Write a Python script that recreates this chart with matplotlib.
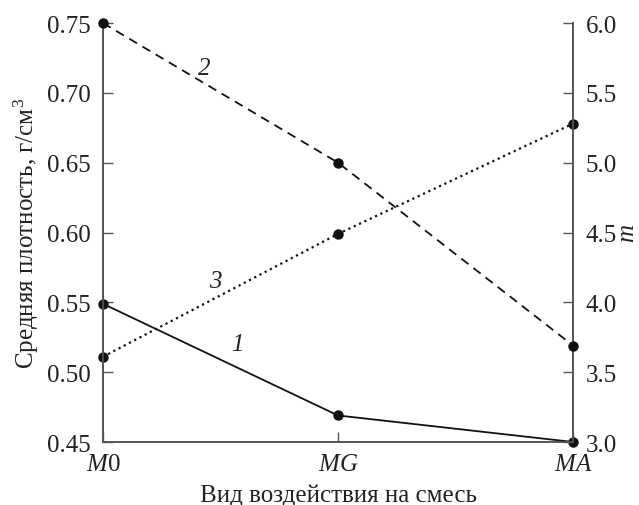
import matplotlib.pyplot as plt
from matplotlib.ticker import FormatStrFormatter

plt.rcParams['font.family'] = ['Liberation Serif', 'DejaVu Serif']
plt.rcParams['mathtext.fontset'] = 'custom'
plt.rcParams['mathtext.rm'] = 'Liberation Serif'
plt.rcParams['mathtext.it'] = 'Liberation Serif:italic'

# data
categories = ['$M$0', '$MG$', '$MA$']
density_1 = [0.549, 0.469, 0.45]      # curve 1, left axis
m_2 = [6.0, 5.0, 3.69]                # curve 2, right axis
density_3 = [0.511, 0.599, 0.678]     # curve 3, left axis

x = list(range(len(categories)))
fs = 18
spine_col = '#555555'

fig = plt.figure(figsize=(6.39, 5.06), dpi=100)
ax = fig.add_axes([0.161, 0.1245, 0.736, 0.828])
ax2 = ax.twinx()

ax.plot(x, density_1, '-', color='#111111', lw=1.3, marker='o', ms=6.5, clip_on=False, zorder=5)
ax.plot(x, density_3, ':', color='#111111', lw=1.6, marker='o', ms=6.5, clip_on=False, zorder=5)
ax2.plot(x, m_2, color='#111111', lw=1.3, ls=(0, (5, 3.5)), marker='o', ms=6.5, clip_on=False, zorder=5)

ax.set_xlim(0, 2)
ax.set_ylim(0.45, 0.75)
ax2.set_ylim(3.0, 6.0)
ax.set_yticks([0.45, 0.50, 0.55, 0.60, 0.65, 0.70, 0.75])
ax2.set_yticks([3.0, 3.5, 4.0, 4.5, 5.0, 5.5, 6.0])
ax.yaxis.set_major_formatter(FormatStrFormatter('%.2f'))
ax2.yaxis.set_major_formatter(FormatStrFormatter('%.1f'))
ax.set_xticks(x)
ax.set_xticklabels(categories)

for a in (ax, ax2):
    a.spines['top'].set_visible(False)
    for s in a.spines.values():
        s.set_color(spine_col)
        s.set_linewidth(1.2)
    a.tick_params(direction='in', length=7, width=1, color=spine_col,
                  labelsize=fs, labelcolor='#222222', pad=9)
ax.tick_params(axis='x', pad=8)

ax.set_ylabel('Средняя плотность, г/см$^3$', fontsize=fs, color='#222222', labelpad=4)
ax2.set_ylabel('$m$', fontsize=fs, color='#222222', labelpad=0)
ax.set_xlabel('Вид воздействия на смесь', fontsize=fs, color='#222222', labelpad=6)

# curve numbers
ax.text(0.43, 0.718, '2', fontsize=fs, style='italic', color='#222222', ha='center', va='center')
ax.text(0.477, 0.565, '3', fontsize=fs, style='italic', color='#222222', ha='center', va='center')
ax.text(0.574, 0.520, '1', fontsize=fs, style='italic', color='#222222', ha='center', va='center')

fig.savefig('out.png', dpi=100)
